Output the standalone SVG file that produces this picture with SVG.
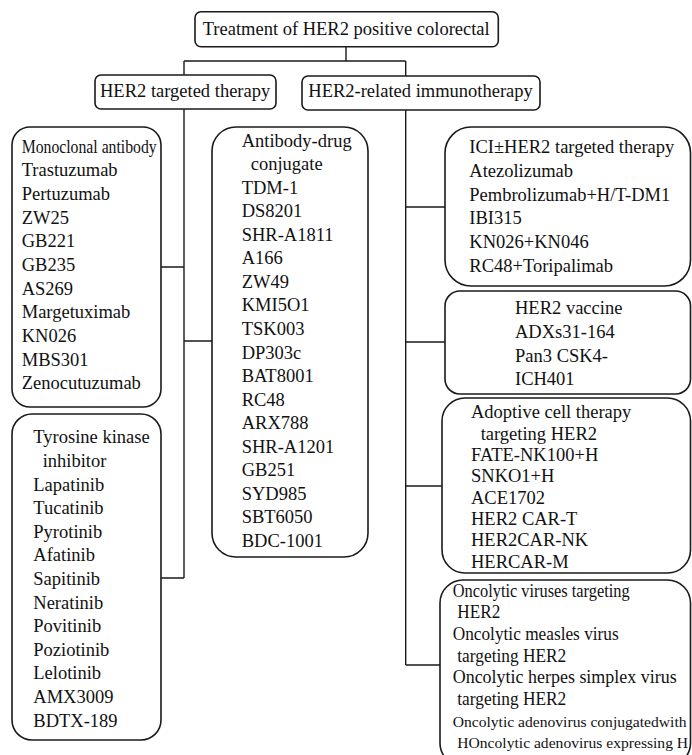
<svg xmlns="http://www.w3.org/2000/svg" width="692" height="755" viewBox="0 0 692 755">
<style>
.box{fill:#fff;stroke:#1a1a1a;stroke-width:1.6}
.ln{fill:none;stroke:#1a1a1a;stroke-width:1.4}
text{font-family:"Liberation Serif","Times New Roman",serif;font-size:18.5px;fill:#111}
text.sm{font-size:15.6px}
</style>
<rect width="692" height="755" fill="#fff"/>
<g id="connectors">
<path class="ln" d="M346 46.7V61M184 61H405.7M184 61V75M405.7 61V76"/>
<path class="ln" d="M184 109V578M161 267H184M184 341H212M161 578H184"/>
<path class="ln" d="M405.7 110V665M405.7 207H445M405.7 342H445M405.7 486H442M405.7 665H440"/>
</g>
<g id="root">
<rect class="box" x="195" y="11.7" width="303.3" height="35" rx="6"/>
<text x="202.7" y="35">Treatment of HER2 positive colorectal</text>
</g>
<g id="targeted">
<rect class="box" x="95" y="75" width="181" height="34" rx="6"/>
<text x="100" y="96.7">HER2 targeted therapy</text>
</g>
<g id="immuno">
<rect class="box" x="302" y="76" width="238" height="34" rx="6"/>
<text x="308.3" y="96.7">HER2-related immunotherapy</text>
</g>
<g id="monoclonal">
<rect class="box" x="12" y="127" width="149" height="280" rx="18"/>
<text x="21.7" y="152.7" textLength="135" lengthAdjust="spacingAndGlyphs">Monoclonal antibody</text>
<text x="21.7" y="176.3">Trastuzumab</text>
<text x="21.7" y="200">Pertuzumab</text>
<text x="21.7" y="223.6">ZW25</text>
<text x="21.7" y="247.3">GB221</text>
<text x="21.7" y="270.9">GB235</text>
<text x="21.7" y="294.6">AS269</text>
<text x="21.7" y="318.2">Margetuximab</text>
<text x="21.7" y="341.9">KN026</text>
<text x="21.7" y="365.5">MBS301</text>
<text x="21.7" y="389.2">Zenocutuzumab</text>
</g>
<g id="tki">
<rect class="box" x="12" y="414" width="149" height="326" rx="20"/>
<text x="33.3" y="443.3">Tyrosine kinase</text>
<text x="42.7" y="466.9">inhibitor</text>
<text x="33.3" y="490.5">Lapatinib</text>
<text x="33.3" y="514.1">Tucatinib</text>
<text x="33.3" y="537.7">Pyrotinib</text>
<text x="33.3" y="561.3">Afatinib</text>
<text x="33.3" y="584.9">Sapitinib</text>
<text x="33.3" y="608.5">Neratinib</text>
<text x="33.3" y="632.1">Povitinib</text>
<text x="33.3" y="655.7">Poziotinib</text>
<text x="33.3" y="679.3">Lelotinib</text>
<text x="33.3" y="702.9">AMX3009</text>
<text x="33.3" y="726.5">BDTX-189</text>
</g>
<g id="adc">
<rect class="box" x="212" y="127" width="156" height="430" rx="24"/>
<text x="241.7" y="146.7">Antibody-drug</text>
<text x="250.7" y="170.2">conjugate</text>
<text x="241.7" y="193.8">TDM-1</text>
<text x="241.7" y="217.3">DS8201</text>
<text x="241.7" y="240.8">SHR-A1811</text>
<text x="241.7" y="264.4">A166</text>
<text x="241.7" y="287.9">ZW49</text>
<text x="241.7" y="311.4">KMI5O1</text>
<text x="241.7" y="334.9">TSK003</text>
<text x="241.7" y="358.5">DP303c</text>
<text x="241.7" y="382">BAT8001</text>
<text x="241.7" y="405.5">RC48</text>
<text x="241.7" y="429.1">ARX788</text>
<text x="241.7" y="452.6">SHR-A1201</text>
<text x="241.7" y="476.1">GB251</text>
<text x="241.7" y="499.6">SYD985</text>
<text x="241.7" y="523.2">SBT6050</text>
<text x="241.7" y="546.7">BDC-1001</text>
</g>
<g id="ici">
<rect class="box" x="445" y="127" width="245.5" height="159" rx="26"/>
<text x="469.3" y="153.3">ICI±HER2 targeted therapy</text>
<text x="469.3" y="177">Atezolizumab</text>
<text x="469.3" y="200.7">Pembrolizumab+H/T-DM1</text>
<text x="469.3" y="224.3">IBI315</text>
<text x="469.3" y="248">KN026+KN046</text>
<text x="469.3" y="271.7">RC48+Toripalimab</text>
</g>
<g id="vaccine">
<rect class="box" x="445" y="291" width="245.5" height="103" rx="15"/>
<text x="515" y="314.3">HER2 vaccine</text>
<text x="515" y="338">ADXs31-164</text>
<text x="515" y="361.7">Pan3 CSK4-</text>
<text x="515" y="385.4">ICH401</text>
</g>
<g id="adoptive">
<rect class="box" x="442" y="398" width="248.5" height="175" rx="23"/>
<text x="471" y="418.3">Adoptive cell therapy</text>
<text x="480.7" y="439.6">targeting HER2</text>
<text x="471" y="461">FATE-NK100+H</text>
<text x="471" y="482.3">SNKO1+H</text>
<text x="471" y="503.7">ACE1702</text>
<text x="471" y="525">HER2 CAR-T</text>
<text x="471" y="546.3">HER2CAR-NK</text>
<text x="471" y="567.7">HERCAR-M</text>
</g>
<g id="oncolytic">
<rect class="box" x="440" y="580" width="250.5" height="186" rx="23"/>
<text x="452.7" y="596.7" textLength="177" lengthAdjust="spacingAndGlyphs">Oncolytic viruses targeting</text>
<text x="457.3" y="618.4" textLength="43" lengthAdjust="spacingAndGlyphs">HER2</text>
<text x="452.7" y="640" textLength="166" lengthAdjust="spacingAndGlyphs">Oncolytic measles virus</text>
<text x="457.3" y="661.7" textLength="109" lengthAdjust="spacingAndGlyphs">targeting HER2</text>
<text x="452.7" y="683.3" textLength="224" lengthAdjust="spacingAndGlyphs">Oncolytic herpes simplex virus</text>
<text x="457.3" y="705" textLength="109" lengthAdjust="spacingAndGlyphs">targeting HER2</text>
<text class="sm" x="452.7" y="726.7">Oncolytic adenovirus conjugatedwith</text>
<text class="sm" x="457.3" y="748.3">HOncolytic adenovirus expressing H</text>
</g>
</svg>
